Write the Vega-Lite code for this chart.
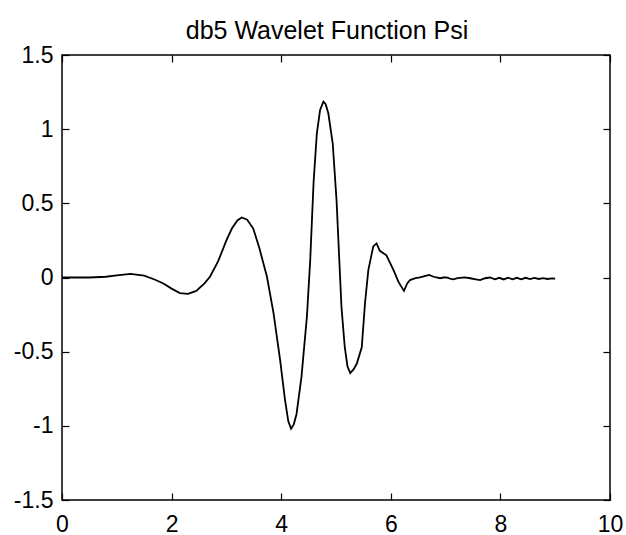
{
  "$schema": "https://vega.github.io/schema/vega-lite/v6.json",
  "autosize": {"type": "none"},
  "width": 548,
  "height": 445,
  "padding": {"left": 62, "top": 55, "right": 16, "bottom": 35},
  "background": "white",
  "title": {
    "text": "db5 Wavelet Function Psi",
    "font": "Liberation Sans",
    "fontSize": 25,
    "fontWeight": "normal",
    "color": "black",
    "anchor": "middle",
    "offset": 0,
    "dx": -9
  },
  "config": {
    "view": {"stroke": "black", "strokeWidth": 1.5},
    "axis": {
      "grid": false,
      "domain": false,
      "tickColor": "black",
      "tickWidth": 1.2,
      "labelFont": "Liberation Sans",
      "labelFontSize": 23,
      "labelColor": "black"
    }
  },
  "data": {
    "values": [
      {"t": 0, "psi": 0},
      {"t": 0.5, "psi": 0},
      {"t": 0.8, "psi": 0.005},
      {"t": 1.0, "psi": 0.015},
      {"t": 1.25, "psi": 0.025},
      {"t": 1.5, "psi": 0.012},
      {"t": 1.7, "psi": -0.015},
      {"t": 1.85, "psi": -0.04},
      {"t": 2.0, "psi": -0.075},
      {"t": 2.15, "psi": -0.105},
      {"t": 2.3, "psi": -0.11},
      {"t": 2.45, "psi": -0.09},
      {"t": 2.6, "psi": -0.04},
      {"t": 2.7, "psi": 0.005},
      {"t": 2.85, "psi": 0.11},
      {"t": 3.0, "psi": 0.25},
      {"t": 3.1, "psi": 0.33},
      {"t": 3.2, "psi": 0.385},
      {"t": 3.28, "psi": 0.405},
      {"t": 3.38, "psi": 0.39},
      {"t": 3.49, "psi": 0.33},
      {"t": 3.6, "psi": 0.2},
      {"t": 3.74, "psi": 0.005},
      {"t": 3.86, "psi": -0.24},
      {"t": 3.98, "psi": -0.556},
      {"t": 4.07, "psi": -0.826},
      {"t": 4.13, "psi": -0.97},
      {"t": 4.18, "psi": -1.02},
      {"t": 4.23, "psi": -0.99},
      {"t": 4.28, "psi": -0.92},
      {"t": 4.37, "psi": -0.67},
      {"t": 4.47, "psi": -0.26},
      {"t": 4.53, "psi": 0.12},
      {"t": 4.59, "psi": 0.635},
      {"t": 4.65, "psi": 0.97},
      {"t": 4.71, "psi": 1.13},
      {"t": 4.77, "psi": 1.185},
      {"t": 4.81, "psi": 1.17},
      {"t": 4.86, "psi": 1.107},
      {"t": 4.94, "psi": 0.905},
      {"t": 5.01, "psi": 0.52},
      {"t": 5.06, "psi": 0.12},
      {"t": 5.1, "psi": -0.2},
      {"t": 5.16, "psi": -0.47},
      {"t": 5.21, "psi": -0.6},
      {"t": 5.26, "psi": -0.645},
      {"t": 5.32, "psi": -0.62},
      {"t": 5.38, "psi": -0.58},
      {"t": 5.47, "psi": -0.47},
      {"t": 5.53, "psi": -0.17},
      {"t": 5.59, "psi": 0.05},
      {"t": 5.68, "psi": 0.21},
      {"t": 5.74, "psi": 0.23},
      {"t": 5.8, "psi": 0.18},
      {"t": 5.92, "psi": 0.15},
      {"t": 6.05, "psi": 0.05},
      {"t": 6.14, "psi": -0.03},
      {"t": 6.24, "psi": -0.09},
      {"t": 6.3, "psi": -0.04},
      {"t": 6.35, "psi": -0.017},
      {"t": 6.45, "psi": -0.005},
      {"t": 6.53, "psi": 0.001},
      {"t": 6.62, "psi": 0.01},
      {"t": 6.7, "psi": 0.017},
      {"t": 6.78, "psi": 0.005},
      {"t": 6.9, "psi": -0.005},
      {"t": 6.96, "psi": 0.0},
      {"t": 7.02, "psi": 0.001},
      {"t": 7.08, "psi": -0.008},
      {"t": 7.14, "psi": -0.012},
      {"t": 7.22, "psi": -0.004},
      {"t": 7.35, "psi": 0.001},
      {"t": 7.45, "psi": -0.005},
      {"t": 7.55, "psi": -0.012},
      {"t": 7.63, "psi": -0.017},
      {"t": 7.72, "psi": -0.005},
      {"t": 7.81, "psi": 0.0},
      {"t": 7.9, "psi": -0.012},
      {"t": 7.98, "psi": -0.002},
      {"t": 8.06, "psi": -0.013},
      {"t": 8.14, "psi": -0.001},
      {"t": 8.22, "psi": -0.012},
      {"t": 8.3, "psi": -0.002},
      {"t": 8.38, "psi": -0.012},
      {"t": 8.46, "psi": -0.002},
      {"t": 8.54, "psi": -0.011},
      {"t": 8.62, "psi": -0.003},
      {"t": 8.7, "psi": -0.01},
      {"t": 8.78, "psi": -0.004},
      {"t": 8.86, "psi": -0.01},
      {"t": 8.94, "psi": -0.006},
      {"t": 9.0, "psi": -0.008}
    ]
  },
  "layer": [
    {
      "mark": {"type": "line", "color": "black", "strokeWidth": 1.8},
      "encoding": {
        "x": {
          "field": "t", "type": "quantitative",
          "scale": {"domain": [0, 10], "nice": false, "zero": false},
          "axis": {"orient": "bottom", "title": null, "values": [0, 2, 4, 6, 8, 10], "tickSize": -7, "labelPadding": 20, "labelFlush": false}
        },
        "y": {
          "field": "psi", "type": "quantitative",
          "scale": {"domain": [-1.5, 1.5], "nice": false, "zero": false},
          "axis": {
            "orient": "left", "title": null, "values": [-1.5, -1, -0.5, 0, 0.5, 1, 1.5],
            "tickSize": -7, "labelPadding": 16, "labelFlush": false,
            "labelExpr": "(datum.value < 0 ? '-' : '') + format(abs(datum.value), '~g')"
          }
        }
      }
    },
    {
      "mark": {"type": "line", "strokeOpacity": 0},
      "encoding": {
        "x": {
          "field": "t", "type": "quantitative",
          "axis": {"orient": "top", "title": null, "values": [0, 2, 4, 6, 8, 10], "tickSize": -7, "labels": false}
        },
        "y": {
          "field": "psi", "type": "quantitative",
          "axis": {"orient": "right", "title": null, "values": [-1.5, -1, -0.5, 0, 0.5, 1, 1.5], "tickSize": -7, "labels": false}
        }
      }
    }
  ],
  "resolve": {"axis": {"x": "independent", "y": "independent"}}
}
